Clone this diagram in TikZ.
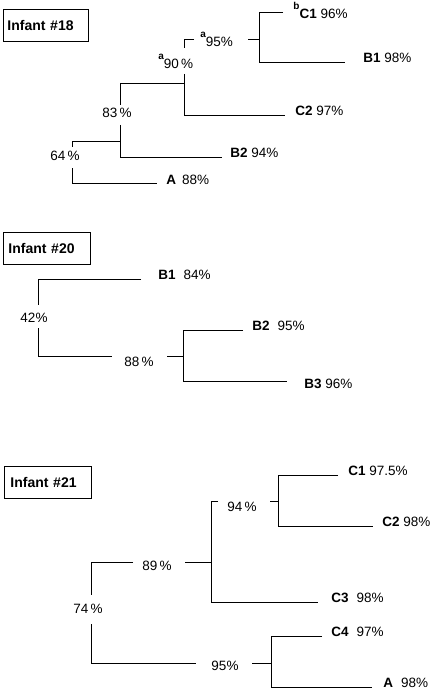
\documentclass[tikz,border=0pt]{standalone}
\usepackage{fontspec}
\setmainfont{Liberation Sans}
\newcommand{\supl}[1]{\raisebox{9.5pt}{\fontsize{10}{10}\selectfont\bfseries #1}}
\begin{document}
\begin{tikzpicture}[x=1pt,y=-1pt,line width=0.8pt,
  lbl/.style={anchor=west,inner sep=0pt,font=\fontsize{13.5}{16}\selectfont},
  slbl/.style={anchor=base west,inner sep=0pt,font=\fontsize{13.5}{16}\selectfont},
  ilbl/.style={inner sep=0pt,font=\fontsize{13.5}{16}\selectfont},
  infbox/.style={draw,line width=0.9pt,anchor=north west,align=left,minimum height=32pt,inner ysep=0pt,font=\bfseries\fontsize{14}{16}\selectfont}]
\useasboundingbox (0,0) rectangle (434,690);
% ---------------- Infant #18
\node[infbox,text width=77pt,inner xsep=4pt] (box18) at (3,9) {Infant \#18};
\node[slbl] (l18c1) at (293,19) {\supl{b}\textbf{C1} 96\%};
\node[lbl] (l18b1) at (363,58) {\textbf{B1} 98\%};
\node[lbl] (l18c2) at (295,111) {\textbf{C2} 97\%};
\node[lbl] (l18b2) at (230,153) {\textbf{B2} 94\%};
\node[lbl] (l18a) at (166,180) {\textbf{A}\hspace{6pt}88\%};
\node[slbl] (i18n95) at (200,47) {\supl{a}95\%};
\node[slbl] (i18n90) at (158,69) {\supl{a}90\,\%};
\node[ilbl] (i18n83) at (117,113) {83\,\%};
\node[ilbl] (i18n64) at (65,156) {64\,\%};
\coordinate (j18a) at (259,12);
\coordinate (j18b) at (259,62);
\coordinate (j18c) at (259,39);
\coordinate (j18cs) at (248,39);
\coordinate (k18t) at (184,39);
\coordinate (k18ts) at (194,39);
\coordinate (k18u) at (184,48);
\coordinate (k18v) at (184,74);
\coordinate (k18m) at (184,83);
\coordinate (k18b) at (184,115);
\coordinate (m18t) at (120,83);
\coordinate (m18u) at (120,105);
\coordinate (m18v) at (120,125);
\coordinate (m18m) at (120,141);
\coordinate (m18b) at (120,157);
\coordinate (r18t) at (72,141);
\coordinate (r18u) at (72,147);
\coordinate (r18v) at (72,168);
\coordinate (r18b) at (72,183);
\coordinate (e18c1) at (283,12);
\coordinate (e18b1) at (345,62);
\coordinate (e18c2) at (285,115);
\coordinate (e18b2) at (222,157);
\coordinate (e18a) at (157,183);
\draw (e18c1) -- (j18a) -- (j18b) -- (e18b1);
\draw (j18cs) -- (j18c);
\draw (k18ts) -- (k18t) -- (k18u);
\draw (k18v) -- (k18b) -- (e18c2);
\draw (m18t) -- (k18m);
\draw (m18t) -- (m18u);
\draw (m18v) -- (m18b) -- (e18b2);
\draw (r18t) -- (m18m);
\draw (r18t) -- (r18u);
\draw (r18v) -- (r18b) -- (e18a);
% ---------------- Infant #20
\node[infbox,text width=77pt,inner xsep=5pt] (box20) at (3,232) {Infant \#20};
\node[lbl] (l20b1) at (158,275) {\textbf{B1}\hspace{8pt}84\%};
\node[lbl] (l20b2) at (252,326) {\textbf{B2}\hspace{8pt}95\%};
\node[lbl] (l20b3) at (304,384) {\textbf{B3} 96\%};
\node[ilbl] (i20n42) at (34,318) {42\%};
\node[ilbl] (i20n88) at (139,362) {88\,\%};
\coordinate (r20t) at (38,279);
\coordinate (r20u) at (38,305);
\coordinate (r20v) at (38,328);
\coordinate (r20b) at (38,356);
\coordinate (r20h) at (112,356);
\coordinate (s20s) at (167,356);
\coordinate (s20m) at (183,356);
\coordinate (s20t) at (183,330);
\coordinate (s20b) at (183,381);
\coordinate (e20b1) at (141,279);
\coordinate (e20b2) at (243,330);
\coordinate (e20b3) at (287,381);
\draw (e20b1) -- (r20t) -- (r20u);
\draw (r20v) -- (r20b) -- (r20h);
\draw (s20s) -- (s20m);
\draw (e20b2) -- (s20t) -- (s20b) -- (e20b3);
% ---------------- Infant #21
\node[infbox,text width=75pt,inner xsep=6pt] (box21) at (4,466) {Infant \#21};
\node[lbl] (l21c1) at (348,471) {\textbf{C1} 97.5\%};
\node[lbl] (l21c2) at (382,522) {\textbf{C2} 98\%};
\node[lbl] (l21c3) at (331,598) {\textbf{C3}\hspace{8pt}98\%};
\node[lbl] (l21c4) at (331,632) {\textbf{C4}\hspace{8pt}97\%};
\node[lbl] (l21a) at (383,683) {\textbf{A}\hspace{8pt}98\%};
\node[ilbl] (i21n94) at (242,507) {94\,\%};
\node[ilbl] (i21n89) at (157,566) {89\,\%};
\node[ilbl] (i21n74) at (88,609) {74\,\%};
\node[ilbl] (i21n95) at (225,666) {95\%};
\coordinate (a21t) at (278,475);
\coordinate (a21b) at (278,526);
\coordinate (a21m) at (278,501);
\coordinate (a21s) at (270,501);
\coordinate (b21t) at (211,501);
\coordinate (b21ts) at (218,501);
\coordinate (b21m) at (211,562);
\coordinate (b21s) at (185,562);
\coordinate (b21b) at (211,602);
\coordinate (r21t) at (91,562);
\coordinate (r21h) at (133,562);
\coordinate (r21u) at (91,595);
\coordinate (r21v) at (91,624);
\coordinate (r21b) at (91,663);
\coordinate (r21bh) at (196,663);
\coordinate (c21s) at (252,663);
\coordinate (c21m) at (271,663);
\coordinate (c21t) at (271,636);
\coordinate (c21b) at (271,687);
\coordinate (e21c1) at (338,475);
\coordinate (e21c2) at (373,526);
\coordinate (e21c3) at (318,602);
\coordinate (e21c4) at (322,636);
\coordinate (e21a) at (372,687);
\draw (e21c1) -- (a21t) -- (a21b) -- (e21c2);
\draw (a21s) -- (a21m);
\draw (b21ts) -- (b21t) -- (b21b) -- (e21c3);
\draw (b21s) -- (b21m);
\draw (r21h) -- (r21t) -- (r21u);
\draw (r21v) -- (r21b) -- (r21bh);
\draw (c21s) -- (c21m);
\draw (e21c4) -- (c21t) -- (c21b) -- (e21a);
\end{tikzpicture}
\end{document}
